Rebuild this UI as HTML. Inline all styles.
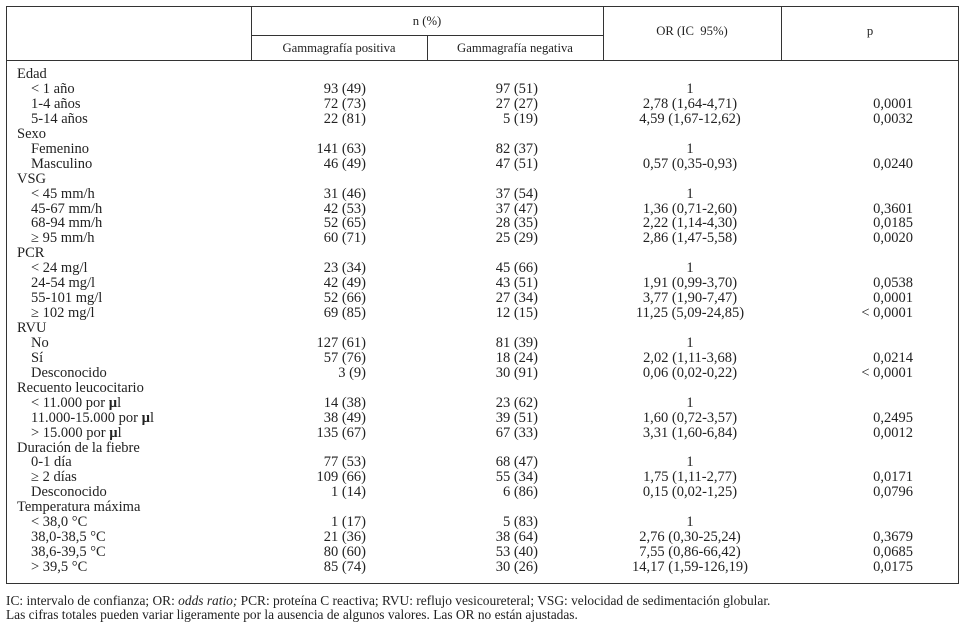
<!DOCTYPE html>
<html><head><meta charset="utf-8"><style>
body{margin:0;background:#fff;width:965px;height:623px;position:relative;overflow:hidden;font-family:"Liberation Serif","DejaVu Serif",serif;color:#222}
.a{position:absolute;white-space:nowrap;line-height:15px;font-size:14.5px}
.r{text-align:right}.c{text-align:center}
.l{position:absolute;background:#333}
.h{font-size:12.7px}
</style></head><body>
<div class="l" style="left:6px;top:6px;width:953px;height:1px"></div>
<div class="l" style="left:6px;top:60px;width:953px;height:1px"></div>
<div class="l" style="left:6px;top:583px;width:953px;height:1px"></div>
<div class="l" style="left:6px;top:6px;width:1px;height:578px"></div>
<div class="l" style="left:958px;top:6px;width:1px;height:578px"></div>
<div class="l" style="left:251px;top:6px;width:1px;height:55px"></div>
<div class="l" style="left:603px;top:6px;width:1px;height:55px"></div>
<div class="l" style="left:781px;top:6px;width:1px;height:55px"></div>
<div class="l" style="left:427px;top:35px;width:1px;height:26px"></div>
<div class="l" style="left:251px;top:35px;width:353px;height:1px"></div>
<div class="a c h" style="left:251px;width:352px;top:14px">n (%)</div>
<div class="a c h" style="left:251px;width:176px;top:41px">Gammagrafía positiva</div>
<div class="a c h" style="left:427px;width:176px;top:41px">Gammagrafía negativa</div>
<div class="a c h" style="left:603px;width:178px;top:24px">OR (IC &nbsp;95%)</div>
<div class="a c h" style="left:781px;width:178px;top:24px">p</div>
<div id="rows"></div>
<div class="a" style="left:6px;top:594px;font-size:13.4px;line-height:14px">IC: intervalo de confianza; OR: <i>odds ratio;</i> PCR: proteína C reactiva; RVU: reflujo vesicoureteral; VSG: velocidad de sedimentación globular.<br>Las cifras totales pueden variar ligeramente por la ausencia de algunos valores. Las OR no están ajustadas.</div>
<script>
var R=[["Edad"],["< 1 año","93 (49)","97 (51)","1",""],["1-4 años","72 (73)","27 (27)","2,78 (1,64-4,71)","0,0001"],["5-14 años","22 (81)","5 (19)","4,59 (1,67-12,62)","0,0032"],
["Sexo"],["Femenino","141 (63)","82 (37)","1",""],["Masculino","46 (49)","47 (51)","0,57 (0,35-0,93)","0,0240"],
["VSG"],["< 45 mm/h","31 (46)","37 (54)","1",""],["45-67 mm/h","42 (53)","37 (47)","1,36 (0,71-2,60)","0,3601"],["68-94 mm/h","52 (65)","28 (35)","2,22 (1,14-4,30)","0,0185"],["≥ 95 mm/h","60 (71)","25 (29)","2,86 (1,47-5,58)","0,0020"],
["PCR"],["< 24 mg/l","23 (34)","45 (66)","1",""],["24-54 mg/l","42 (49)","43 (51)","1,91 (0,99-3,70)","0,0538"],["55-101 mg/l","52 (66)","27 (34)","3,77 (1,90-7,47)","0,0001"],["≥ 102 mg/l","69 (85)","12 (15)","11,25 (5,09-24,85)","< 0,0001"],
["RVU"],["No","127 (61)","81 (39)","1",""],["Sí","57 (76)","18 (24)","2,02 (1,11-3,68)","0,0214"],["Desconocido","3 (9)","30 (91)","0,06 (0,02-0,22)","< 0,0001"],
["Recuento leucocitario"],["< 11.000 por <b>µ</b>l","14 (38)","23 (62)","1",""],["11.000-15.000 por <b>µ</b>l","38 (49)","39 (51)","1,60 (0,72-3,57)","0,2495"],["> 15.000 por <b>µ</b>l","135 (67)","67 (33)","3,31 (1,60-6,84)","0,0012"],
["Duración de la fiebre"],["0-1 día","77 (53)","68 (47)","1",""],["≥ 2 días","109 (66)","55 (34)","1,75 (1,11-2,77)","0,0171"],["Desconocido","1 (14)","6 (86)","0,15 (0,02-1,25)","0,0796"],
["Temperatura máxima"],["< 38,0 °C","1 (17)","5 (83)","1",""],["38,0-38,5 °C","21 (36)","38 (64)","2,76 (0,30-25,24)","0,3679"],["38,6-39,5 °C","80 (60)","53 (40)","7,55 (0,86-66,42)","0,0685"],["> 39,5 °C","85 (74)","30 (26)","14,17 (1,59-126,19)","0,0175"]];
var h="";R.forEach(function(r,i){var t=(67+i*14.94).toFixed(1);
if(r.length==1){h+='<div class="a" style="left:17px;top:'+t+'px">'+r[0]+'</div>';}
else{h+='<div class="a" style="left:31px;top:'+t+'px">'+r[0].replace(/</g,"&lt;").replace("&lt;b>","<b>").replace("&lt;/b>","</b>")+'</div>'+
'<div class="a r" style="left:266px;width:100px;top:'+t+'px">'+r[1]+'</div>'+
'<div class="a r" style="left:438px;width:100px;top:'+t+'px">'+r[2]+'</div>'+
'<div class="a c" style="left:600px;width:180px;top:'+t+'px">'+r[3]+'</div>'+
'<div class="a r" style="left:813px;width:100px;top:'+t+'px">'+r[4].replace("<","&lt;")+'</div>';}});
document.getElementById("rows").innerHTML=h;
</script>
</body></html>
